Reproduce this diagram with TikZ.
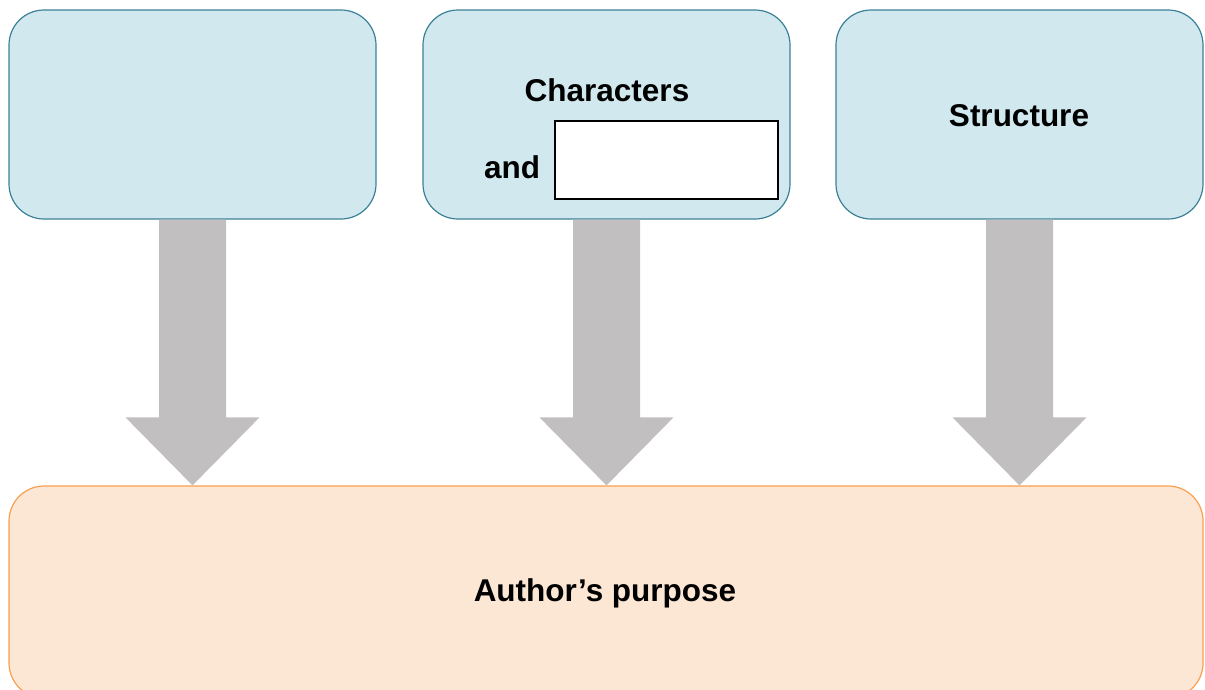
\documentclass[tikz,border=0pt]{standalone}
\usepackage{fontspec}
\setmainfont{Liberation Sans}
\usetikzlibrary{calc}
\definecolor{bluefill}{HTML}{D1E8EE}
\definecolor{bluedraw}{HTML}{3A8197}
\definecolor{orangefill}{HTML}{FCE6D4}
\definecolor{orangedraw}{HTML}{F8A050}
\definecolor{arrowgray}{HTML}{C1BFC0}
\tikzset{
  topbox/.style={draw=bluedraw, fill=bluefill, line width=1.2pt, rounded corners=35pt,
    minimum width=367pt, minimum height=209pt, inner sep=0pt},
  botbox/.style={draw=orangedraw, fill=orangefill, line width=1.2pt, rounded corners=35pt,
    minimum width=1194pt, minimum height=212pt, inner sep=0pt},
  blank/.style={draw=black, fill=white, line width=1.8pt, minimum width=223pt,
    minimum height=78pt, inner sep=0pt},
  lbl/.style={font=\fontsize{31.5}{36}\selectfont\bfseries, inner sep=0pt},
  bigarrow/.style={fill=arrowgray, draw=none}
}
\begin{document}
\begin{tikzpicture}[x=1pt,y=-1pt]
\useasboundingbox (0,0) rectangle (1205,689);
\node[topbox] (b1) at (192.5,114.5) {};
\node[topbox] (b2) at (606.5,114.5) {};
\node[topbox] (b3) at (1019.5,114.5) {};
\node[botbox] (bot) at (606,592) {};
\node[blank] (wb) at (666.5,160) {};
\node[lbl] (chars) at (607,90) {Characters};
\node[lbl] (and) at (512,167) {and};
\node[lbl] (struct) at (1019,116) {Structure};
\node[lbl] (ap) at (605,593) {Author’s purpose};
\foreach \b in {b1,b2,b3}{
  \fill[bigarrow] let \p1=(\b.south), \p2=(bot.north) in
    (\x1-33.5pt,\y1) -- (\x1+33.5pt,\y1) -- (\x1+33.5pt,\y2+68pt) -- (\x1+67pt,\y2+68pt)
    -- (\x1,\y2) -- (\x1-67pt,\y2+68pt) -- (\x1-33.5pt,\y2+68pt) -- cycle;
}
\end{tikzpicture}
\end{document}
